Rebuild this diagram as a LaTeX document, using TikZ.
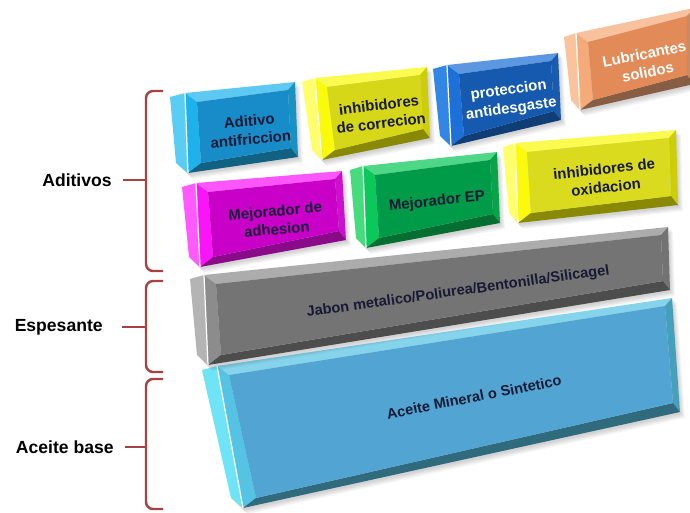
\documentclass[tikz,border=0pt]{standalone}
\usepackage{fontspec}
\setmainfont{Liberation Sans}
\usetikzlibrary{calc}

% block colours: frame, inner face, side face
\definecolor{afout}{RGB}{30,178,236}  \definecolor{afin}{RGB}{24,140,200}  \definecolor{afside}{RGB}{90,205,245}
\definecolor{icout}{RGB}{250,250,10}  \definecolor{icin}{RGB}{215,215,25}  \definecolor{icside}{RGB}{255,255,110}
\definecolor{paout}{RGB}{28,112,215}  \definecolor{pain}{RGB}{22,90,175}   \definecolor{paside}{RGB}{50,135,230}
\definecolor{lsout}{RGB}{245,170,122} \definecolor{lsin}{RGB}{226,138,88}  \definecolor{lsside}{RGB}{250,195,155}
\definecolor{maout}{RGB}{250,20,250}  \definecolor{main}{RGB}{200,0,200}   \definecolor{maside}{RGB}{255,90,255}
\definecolor{epout}{RGB}{10,200,90}   \definecolor{epin}{RGB}{0,155,72}    \definecolor{epside}{RGB}{70,220,125}
\definecolor{ioout}{RGB}{250,250,10}  \definecolor{ioin}{RGB}{218,218,30}  \definecolor{ioside}{RGB}{255,255,110}
\definecolor{jbout}{RGB}{140,140,140} \definecolor{jbin}{RGB}{116,116,116} \definecolor{jbside}{RGB}{180,180,180}
\definecolor{amout}{RGB}{85,195,228}  \definecolor{amin}{RGB}{82,165,210}  \definecolor{amside}{RGB}{110,228,246}
\definecolor{bracered}{RGB}{168,66,66}
\definecolor{ink}{RGB}{22,26,52}

% one bevelled slab: TL, TR, BR, BL of the front, side width, colour prefix
\newcommand{\slab}[6]{%
  \coordinate (p1) at (#1);
  \coordinate (p2) at (#2);
  \coordinate (p3) at (#3);
  \coordinate (p4) at (#4);
  \coordinate (s1) at ($(p1)+(-#5,4)$);
  \coordinate (s4) at ($(p4)+(-#5+3,-10)$);
  \coordinate (q1) at ($(p1)+(12,9)$);
  \coordinate (q2) at ($(p2)+(-7,8)$);
  \coordinate (q3) at ($(p3)+(-7,-9)$);
  \coordinate (q4) at ($(p4)+(13,-10)$);
  \foreach \k in {1,...,5}
    \fill[black, opacity=0.035] ($(s1)+(\k,\k)$) -- ($(p2)+(\k,\k)$) -- ($(p3)+(\k,\k+1)$)
      -- ($(p4)+(\k,\k+1)$) -- ($(s4)+(\k,\k)$) -- cycle;
  \fill[#6side] (s1) -- (p1) -- (p4) -- (s4) -- cycle;
  \fill[#6out!72!white] (p1) -- (p2) -- (q2) -- (q1) -- cycle;
  \fill[#6out] (p1) -- (q1) -- (q4) -- (p4) -- cycle;
  \fill[#6out!82!black] (p2) -- (p3) -- (q3) -- (q2) -- cycle;
  \fill[#6out!55!black] (p4) -- (p3) -- (q3) -- (q4) -- cycle;
  \fill[#6in] (q1) -- (q2) -- (q3) -- (q4) -- cycle;
  \draw[white, line width=0.7pt] (p1) -- (p4);
}

\begin{document}
\begin{tikzpicture}[x=0.02cm, y=-0.02cm,
  blk/.style={font=\fontsize{8.5}{10.5}\selectfont\bfseries, align=center,
              inner sep=0pt, text=ink},
  big/.style={blk, font=\fontsize{8.3}{9}\selectfont\bfseries},
  lbl/.style={font=\fontsize{10}{12}\selectfont\bfseries, anchor=east,
              inner sep=0pt},
  brc/.style={draw=bracered, line width=1.4pt, rounded corners=4pt},
]
  \useasboundingbox[fill=white] (0,0) rectangle (690,512);

  % layers, from the base upwards
  \slab{217,366}{672,298}{680,412}{243,508}{15}{am}
  \slab{204,275}{668,227}{670,290}{208,365}{14}{jb}
  \slab{196,183}{342,171}{346,240}{200,267}{14}{ma}
  \slab{363,166}{497,152}{500,223}{366,248}{13}{ep}
  \slab{515,143}{676,130}{678,205}{518,223}{12}{io}
  \slab{185,93}{295,82}{298,157}{188,173}{15}{af}
  \slab{315,78}{427,67}{430,138}{322,160}{13}{ic}
  \slab{447,65}{558,53}{561,120}{451,146}{14}{pa}
  \slab{576,33}{694,8}{694,84}{580,110}{12}{ls}

  \node[blk, rotate=5]  (af) at (250,130) {Aditivo\\antifriccion};
  \node[blk, rotate=7]  (ic) at (380,114) {inhibidores\\de correcion};
  \node[blk, rotate=8, text=white] (pa) at (510,100) {proteccion\\antidesgaste};
  \node[blk, rotate=11, text=white] (ls) at (646,63) {Lubricantes\\solidos};
  \node[blk, rotate=5]  (ma) at (276,220) {Mejorador de\\adhesion};
  \node[blk, rotate=6]  (ep) at (437,202) {Mejorador EP};
  \node[blk, rotate=6]  (io) at (605,178) {inhibidores de\\oxidacion};
  \node[big, rotate=8]  (jb) at (458,292) {Jabon metalico/Poliurea/Bentonilla/Silicagel};
  \node[big, rotate=11] (am) at (474,397) {Aceite Mineral o Sintetico};

  % braces on the left
  \coordinate (tipA) at (146,180);
  \coordinate (tipE) at (146,327);
  \coordinate (tipB) at (146,447);
  \coordinate (dA) at (123,180);
  \coordinate (dE) at (122,327);
  \coordinate (dB) at (125,447);
  \draw[brc] (163,91) -- (146,91) -- (tipA) -- (146,271) -- (163,271);
  \draw[brc] (163,281) -- (146,281) -- (tipE) -- (146,372) -- (163,372);
  \draw[brc] (163,379) -- (146,379) -- (tipB) -- (146,509) -- (163,509);
  \draw[brc] (dA) -- (tipA);
  \draw[brc] (dE) -- (tipE);
  \draw[brc] (dB) -- (tipB);

  \node[lbl] (la) at (112,180) {Aditivos};
  \node[lbl] (le) at (103,327) {Espesante};
  \node[lbl] (lb) at (114,447) {Aceite base};
\end{tikzpicture}
\end{document}
